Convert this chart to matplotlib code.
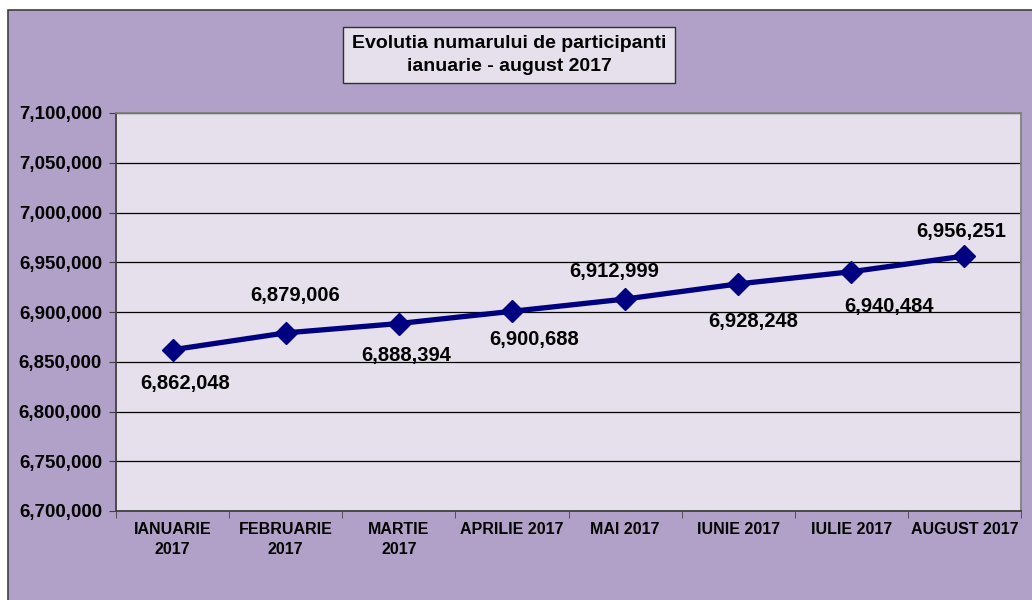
import matplotlib
matplotlib.use("Agg")
import matplotlib.pyplot as plt
from matplotlib.patches import Rectangle
from matplotlib.ticker import FuncFormatter, FixedLocator

plt.rcParams["font.family"] = ["Liberation Sans", "DejaVu Sans"]

# date
luni = ["IANUARIE\n2017", "FEBRUARIE\n2017", "MARTIE\n2017", "APRILIE 2017",
        "MAI 2017", "IUNIE 2017", "IULIE 2017", "AUGUST 2017"]
participanti = [6862048, 6879006, 6888394, 6900688,
                6912999, 6928248, 6940484, 6956251]

# pozitia etichetelor (offset in puncte fata de marker)
label_off = [(9, -24), (7, 27), (5, -23), (16, -20),
             (-8, 20), (11, -27), (27, -25), (-2, 18)]

BG = "#B1A1C8"
PLOT_BG = "#E6E0EC"
NAVY = "#000080"

fig = plt.figure(figsize=(10.32, 6), dpi=100, facecolor="white")
fig.patches.append(Rectangle((8 / 1032, -0.05), 1.1, (590 / 600) + 0.05,
                             transform=fig.transFigure, facecolor=BG,
                             edgecolor="#404040", linewidth=1.2, zorder=-10))

ax = fig.add_axes([116 / 1032, 89 / 600, 905 / 1032, 398 / 600])
ax.set_facecolor(PLOT_BG)

x = list(range(len(luni)))
ax.plot(x, participanti, color=NAVY, linewidth=3.8, marker="D",
        markersize=11, zorder=3)

for xi, v, (dx, dy) in zip(x, participanti, label_off):
    ax.annotate(f"{v:,}", (xi, v), xytext=(dx, dy), textcoords="offset points",
                ha="center", va="center", fontsize=14.5, fontweight="bold",
                color="black", zorder=4)

ax.set_xlim(-0.5, len(luni) - 0.5)
ax.set_ylim(6700000, 7100000)
ax.yaxis.set_major_locator(FixedLocator(range(6700000, 7100001, 50000)))
ax.yaxis.set_major_formatter(FuncFormatter(lambda v, p: f"{int(v):,}"))
ax.grid(True, axis="y", color="black", linewidth=0.9)
ax.set_axisbelow(True)

ax.set_xticks(x)
ax.set_xticklabels(luni, fontsize=11.5, fontweight="bold", linespacing=1.4)
ax.set_xticks([i - 0.5 for i in range(len(luni) + 1)], minor=True)
ax.tick_params(axis="x", which="major", length=0, pad=8)
ax.tick_params(axis="x", which="minor", length=5, color="#404040", direction="out")
ax.tick_params(axis="y", length=5, color="#404040", labelsize=13.5, pad=5)
for lbl in ax.get_yticklabels():
    lbl.set_fontweight("bold")

for side in ["left", "bottom"]:
    ax.spines[side].set_color("#404040")
    ax.spines[side].set_linewidth(1.3)
for side in ["top", "right"]:
    ax.spines[side].set_color("#808080")
    ax.spines[side].set_linewidth(1.3)

fig.text(509 / 1032, 545 / 600,
         "Evolutia numarului de participanti\nianuarie - august 2017",
         ha="center", va="center", fontsize=14, fontweight="bold",
         linespacing=1.4,
         bbox=dict(boxstyle="square,pad=0.45", facecolor=PLOT_BG,
                   edgecolor="#303030", linewidth=1))

plt.savefig("out.png", dpi=100, facecolor=fig.get_facecolor())
